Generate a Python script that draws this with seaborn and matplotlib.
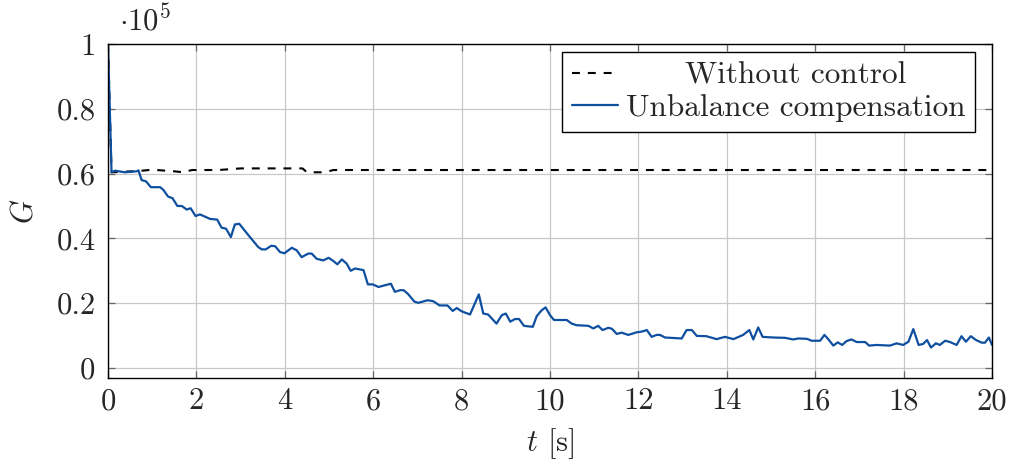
import numpy as np
import pandas as pd
import matplotlib
matplotlib.use("Agg")
import matplotlib.pyplot as plt
import seaborn as sns

t_nc = [0.0, 0.08, 0.7, 1.0, 1.5, 1.7, 1.9, 2.5, 2.8, 3.0, 4.4, 4.5, 4.9, 5.1, 20.0]
g_nc = [1.0, 0.604, 0.608, 0.612, 0.607, 0.604, 0.611, 0.611, 0.614, 0.616, 0.616, 0.604, 0.604, 0.611, 0.611]

t_uc = [0.00, 0.08, 0.16, 0.38, 0.65, 0.69, 0.76, 0.86, 0.97, 1.18, 1.25, 1.36, 1.46, 1.57, 1.67, 1.78, 1.87,
        1.98, 2.08, 2.31, 2.47, 2.57, 2.67, 2.78, 2.87, 2.97, 3.14, 3.40, 3.48, 3.57, 3.69, 3.78, 3.89, 3.99,
        4.16, 4.27, 4.38, 4.53, 4.61, 4.72, 4.87, 4.99, 5.08, 5.19, 5.29, 5.40, 5.49, 5.59, 5.78, 5.88, 5.99,
        6.12, 6.40, 6.49, 6.61, 6.69, 6.79, 6.93, 7.02, 7.23, 7.36, 7.50, 7.68, 7.80, 7.89, 8.00, 8.19, 8.39,
        8.49, 8.60, 8.79, 8.91, 9.00, 9.10, 9.21, 9.30, 9.41, 9.61, 9.70, 9.81, 9.90, 10.00, 10.09, 10.38,
        10.49, 10.60, 10.87, 10.98, 11.09, 11.19, 11.32, 11.40, 11.51, 11.62, 11.77, 11.96, 12.07, 12.19,
        12.30, 12.41, 12.49, 12.60, 12.98, 13.09, 13.21, 13.32, 13.54, 13.77, 13.96, 14.15, 14.37, 14.51,
        14.60, 14.71, 14.81, 15.05, 15.32, 15.50, 15.62, 15.81, 15.92, 16.11, 16.21, 16.30, 16.41, 16.51,
        16.61, 16.71, 16.82, 16.94, 17.13, 17.22, 17.39, 17.69, 17.84, 17.99, 18.11, 18.22, 18.34, 18.44,
        18.53, 18.62, 18.73, 18.82, 18.94, 19.05, 19.20, 19.31, 19.41, 19.52, 19.64, 19.77, 19.84, 19.93, 20.00]
g_uc = [1.000, 0.604, 0.609, 0.604, 0.607, 0.610, 0.580, 0.576, 0.558, 0.558, 0.550, 0.529, 0.524, 0.500, 0.500,
        0.489, 0.493, 0.469, 0.474, 0.460, 0.458, 0.433, 0.430, 0.404, 0.443, 0.445, 0.416, 0.373, 0.366, 0.366,
        0.377, 0.376, 0.358, 0.354, 0.371, 0.363, 0.342, 0.353, 0.353, 0.337, 0.332, 0.340, 0.332, 0.320, 0.335,
        0.322, 0.300, 0.307, 0.302, 0.258, 0.258, 0.250, 0.260, 0.235, 0.240, 0.240, 0.228, 0.205, 0.201, 0.209,
        0.206, 0.193, 0.193, 0.176, 0.185, 0.175, 0.165, 0.227, 0.168, 0.165, 0.137, 0.163, 0.168, 0.143, 0.151,
        0.151, 0.130, 0.127, 0.160, 0.178, 0.187, 0.163, 0.148, 0.148, 0.137, 0.132, 0.130, 0.122, 0.130, 0.117,
        0.124, 0.121, 0.105, 0.109, 0.102, 0.110, 0.112, 0.117, 0.096, 0.102, 0.102, 0.094, 0.091, 0.117, 0.117,
        0.099, 0.098, 0.089, 0.096, 0.089, 0.102, 0.117, 0.088, 0.125, 0.096, 0.094, 0.093, 0.088, 0.091, 0.090,
        0.084, 0.084, 0.102, 0.088, 0.069, 0.079, 0.071, 0.083, 0.088, 0.080, 0.080, 0.069, 0.071, 0.069, 0.076,
        0.071, 0.081, 0.120, 0.071, 0.074, 0.086, 0.063, 0.076, 0.071, 0.084, 0.080, 0.071, 0.098, 0.081, 0.098,
        0.086, 0.078, 0.078, 0.094, 0.071]

x_ticks = [0, 2, 4, 6, 8, 10, 12, 14, 16, 18, 20]
y_ticks = [0, 0.2, 0.4, 0.6, 0.8, 1]
y_tick_labels = ["0", "0.2", "0.4", "0.6", "0.8", "1"]
labels = ["Without control", "Unbalance compensation"]

sns.set_theme(style="ticks")
plt.rcParams["font.family"] = ["cmr10", "DejaVu Serif"]
plt.rcParams["mathtext.fontset"] = "cm"
plt.rcParams["axes.formatter.use_mathtext"] = True

FS = 22
fig = plt.figure(figsize=(10.12, 4.63), dpi=100)
ax = fig.add_axes([108 / 1012, 1 - 378 / 463, 884 / 1012, 334 / 463])

df_nc = pd.DataFrame({"t": t_nc, "G": g_nc})
df_uc = pd.DataFrame({"t": t_uc, "G": g_uc})

sns.lineplot(data=df_nc, x="t", y="G", ax=ax, color="black", lw=1.5,
             linestyle=(0, (3.8, 3.8)), sort=False, label=labels[0])
sns.lineplot(data=df_uc, x="t", y="G", ax=ax, color="#0F4FA0", lw=1.6,
             sort=False, label=labels[1])

ax.set_xlim(0, 20)
ax.set_ylim(-0.031, 1)
ax.set_xticks(x_ticks)
ax.set_xticklabels([str(v) for v in x_ticks])
ax.set_yticks(y_ticks)
ax.set_yticklabels(y_tick_labels)
ax.grid(True, color="#c8c8c8", lw=0.9)
ax.set_axisbelow(True)
ax.tick_params(direction="in", top=True, right=True, length=5, width=0.9,
               color="#666666", labelsize=FS)
ax.tick_params(axis="y", pad=9)
ax.tick_params(axis="x", pad=7)
for s in ax.spines.values():
    s.set_color("black")
    s.set_linewidth(1.0)

ax.set_xlabel("$t$ [s]", fontsize=FS, labelpad=8)
ax.set_ylabel("$G$", fontsize=FS, labelpad=13)
ax.text(0.012, 1.022, r"$\cdot 10^5$", transform=ax.transAxes, fontsize=FS,
        ha="left", va="bottom")

leg = ax.legend(loc="upper right", bbox_to_anchor=(0.981, 0.976), borderaxespad=0,
                fontsize=22.5, frameon=True, fancybox=False, edgecolor="black",
                framealpha=1, handlelength=1.45, handletextpad=0.25,
                borderpad=0.32, labelspacing=0.12)
leg.get_frame().set_linewidth(1.0)

# centre the legend texts in their column, as in the reference
fig.canvas.draw()
renderer = fig.canvas.get_renderer()
texts = leg.get_texts()
widths = [t.get_window_extent(renderer).width for t in texts]
wmax = max(widths)
for t, w in zip(texts, widths):
    t.set_x((wmax - w) / 2.0)

fig.savefig("out.png", dpi=100)
